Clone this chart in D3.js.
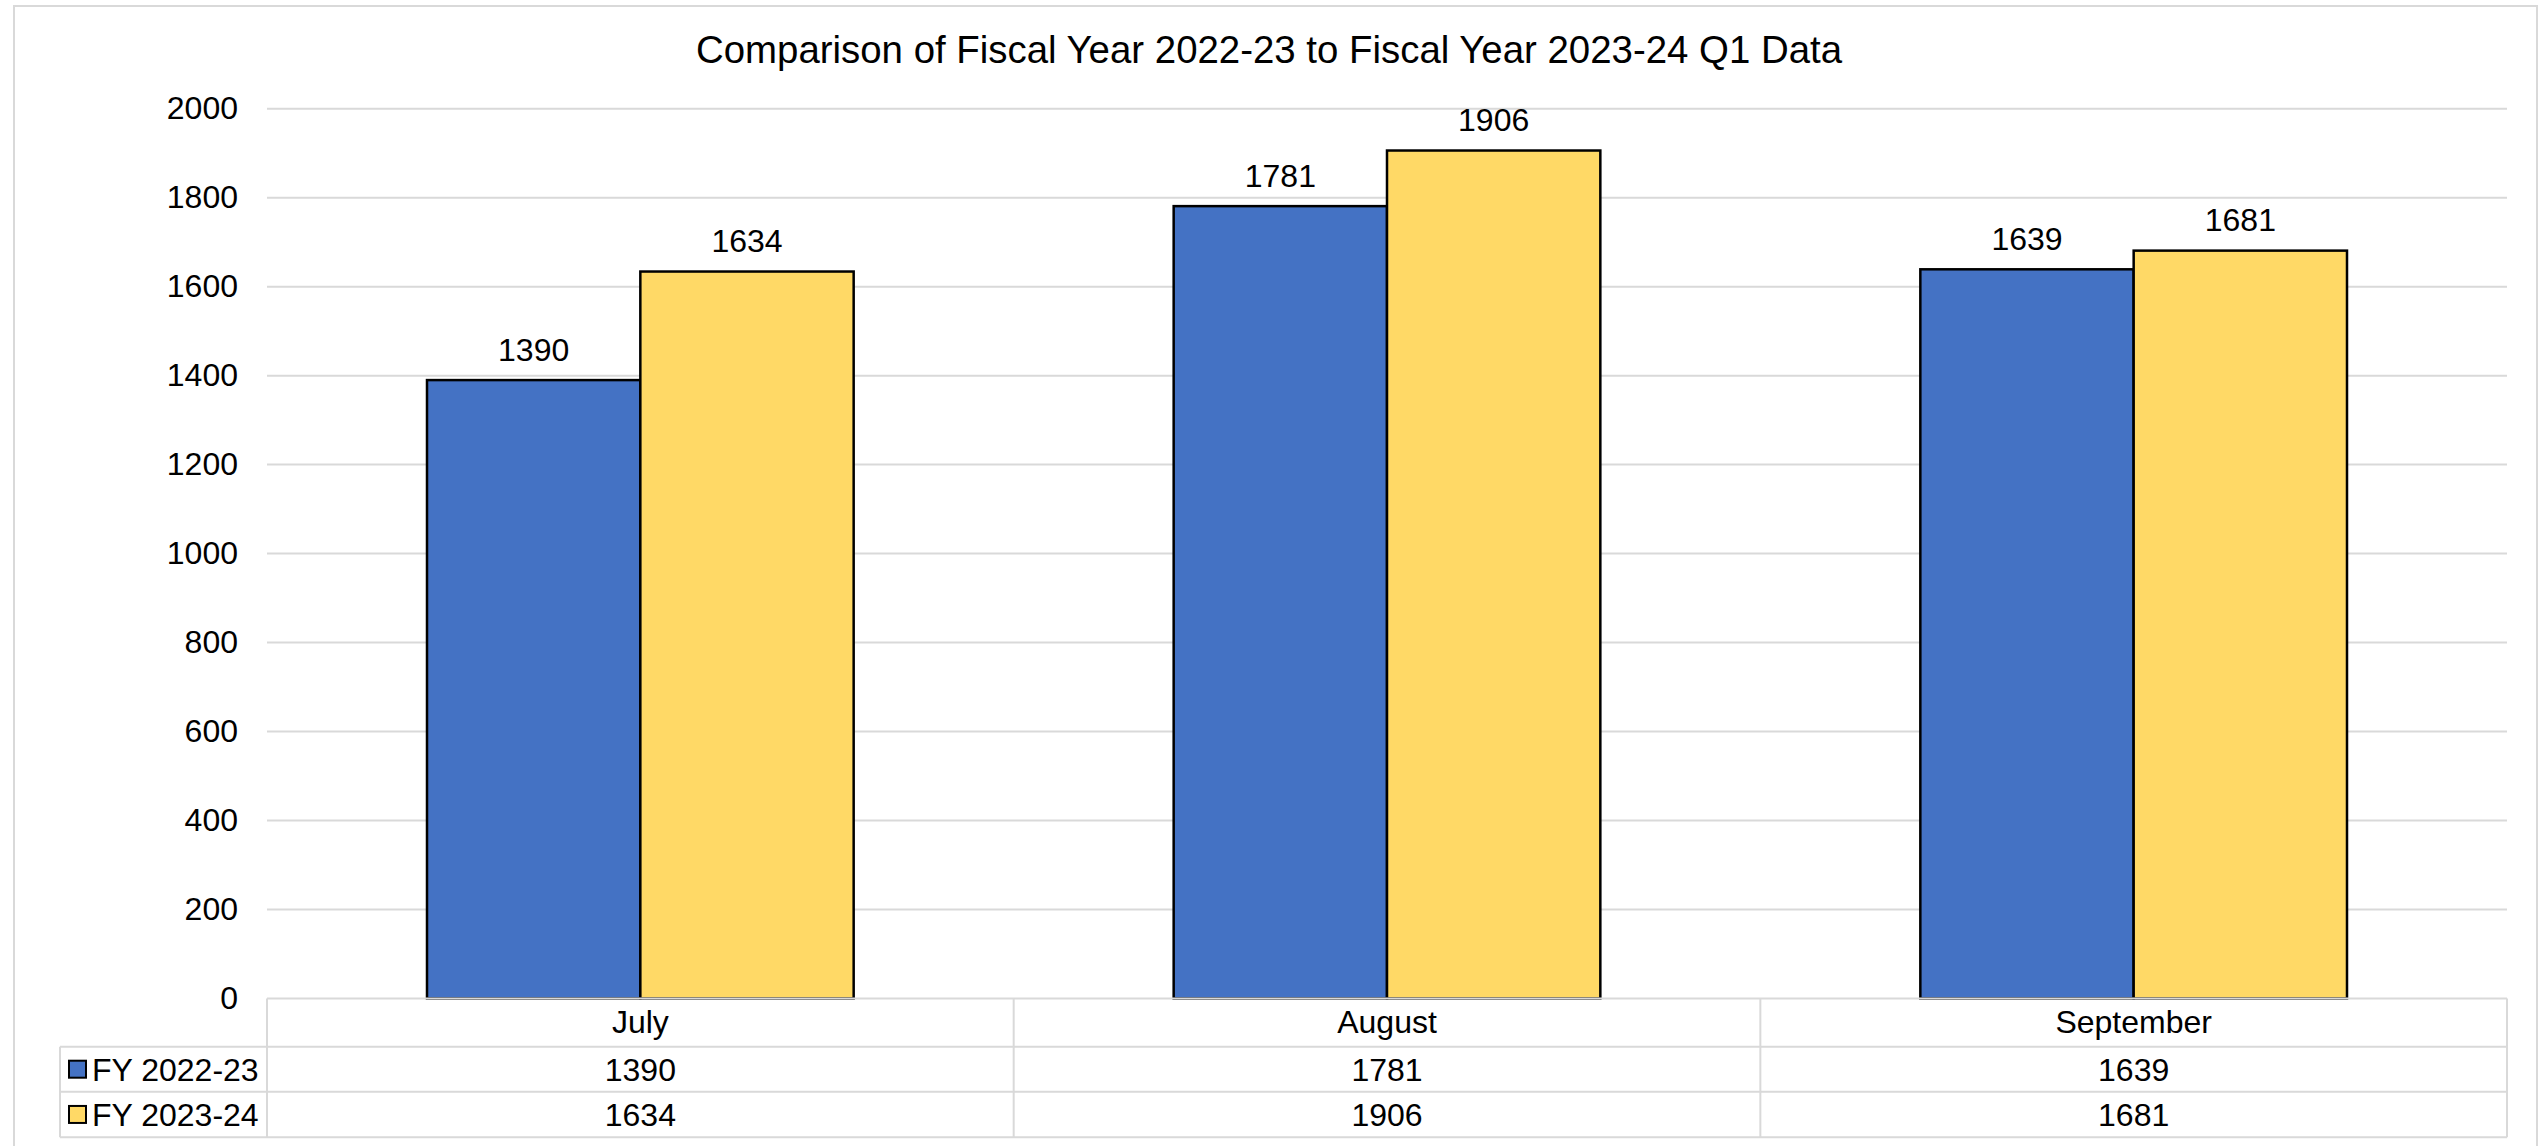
<!DOCTYPE html>
<html>
<head>
<meta charset="utf-8">
<script src="https://cdn.jsdelivr.net/npm/d3@7"></script>
<style>
  body { margin: 0; background: #fff; }
  svg { display: block; font-family: "Liberation Sans", Arial, sans-serif; }
</style>
</head>
<body>
<div id="chart"></div>
<script>
// ------ DATA ------
const months = ['July', 'August', 'September'];
const seriesNames = ['FY 2022-23', 'FY 2023-24'];
const fy2223 = [1390, 1781, 1639];
const fy2324 = [1634, 1906, 1681];
const yTicks = [0, 200, 400, 600, 800, 1000, 1200, 1400, 1600, 1800, 2000];
const seriesColors = ['#4472C4', '#FFD966'];

const seriesValues = [fy2223, fy2324];

// ------ LAYOUT ------
const W = 2543, H = 1146;
const plot = {left: 267, right: 2507, top: 108.7, bottom: 998.5};
const tableLeft = 60;
const rowLines = [998.5, 1046.7, 1091.7, 1137.2];
const gridColor = '#d9d9d9';

const svg = d3.select('#chart').append('svg')
  .attr('width', W)
  .attr('height', H);

svg.append('rect')
  .attr('width', W).attr('height', H)
  .attr('fill', '#fff');

// outer chart border (runs past the bottom edge)
svg.append('rect')
  .attr('x', 14).attr('y', 6)
  .attr('width', 2537 - 14).attr('height', H + 20)
  .attr('fill', 'none')
  .attr('stroke', gridColor)
  .attr('stroke-width', 2);

// title
svg.append('text')
  .attr('x', 1269)
  .attr('y', 63)
  .attr('text-anchor', 'middle')
  .attr('font-size', 38.4)
  .attr('fill', '#000')
  .text('Comparison of Fiscal Year 2022-23 to Fiscal Year 2023-24 Q1 Data');

// scales
const y = d3.scaleLinear()
  .domain([0, 2000])
  .range([plot.bottom, plot.top]);

const x0 = d3.scaleBand()
  .domain(months)
  .range([plot.left, plot.right]);

// gap width 150%: two bars take 2 / 3.5 of each category
const groupW = x0.bandwidth() * 2 / 3.5;
const x1 = d3.scaleBand()
  .domain(seriesNames)
  .range([0, groupW]);
const groupOffset = (x0.bandwidth() - groupW) / 2;

// gridlines
svg.append('g')
  .selectAll('line')
  .data(yTicks.filter(d => d > 0))
  .join('line')
    .attr('x1', plot.left).attr('x2', plot.right)
    .attr('y1', d => y(d)).attr('y2', d => y(d))
    .attr('stroke', gridColor)
    .attr('stroke-width', 2);

// y axis labels
const yAxis = svg.append('g')
  .attr('transform', `translate(${plot.left},0)`)
  .call(d3.axisLeft(y).tickValues(yTicks).tickSize(0).tickPadding(29).tickFormat(d3.format('d')));
yAxis.select('.domain').remove();
yAxis.selectAll('text')
  .attr('font-size', 32)
  .attr('font-family', '"Liberation Sans", Arial, sans-serif')
  .attr('fill', '#000');

// bars
const flat = [];
months.forEach((m, i) => {
  seriesNames.forEach((s, j) => {
    flat.push({month: m, series: s, value: seriesValues[j][i], color: seriesColors[j]});
  });
});

svg.append('g')
  .selectAll('rect')
  .data(flat)
  .join('rect')
    .attr('x', d => x0(d.month) + groupOffset + x1(d.series))
    .attr('y', d => y(d.value))
    .attr('width', x1.bandwidth())
    .attr('height', d => y(0) - y(d.value))
    .attr('fill', d => d.color)
    .attr('stroke', '#000')
    .attr('stroke-width', 2.5);

// data labels
svg.append('g')
  .selectAll('text')
  .data(flat)
  .join('text')
    .attr('x', d => x0(d.month) + groupOffset + x1(d.series) + x1.bandwidth() / 2)
    .attr('y', d => y(d.value) - 19.5)
    .attr('text-anchor', 'middle')
    .attr('font-size', 32)
    .attr('fill', '#000')
    .text(d => d.value);

// ------ DATA TABLE ------
const table = svg.append('g');

// horizontal lines
rowLines.forEach((ly, i) => {
  table.append('line')
    .attr('x1', i === 0 ? plot.left : tableLeft).attr('x2', plot.right)
    .attr('y1', ly).attr('y2', ly)
    .attr('stroke', gridColor)
    .attr('stroke-width', 2);
});

// vertical lines
const colEdges = [plot.left].concat(months.map(m => x0(m) + x0.bandwidth()));
colEdges.forEach(lx => {
  table.append('line')
    .attr('x1', lx).attr('x2', lx)
    .attr('y1', rowLines[0]).attr('y2', rowLines[3])
    .attr('stroke', gridColor)
    .attr('stroke-width', 2);
});
table.append('line')
  .attr('x1', tableLeft).attr('x2', tableLeft)
  .attr('y1', rowLines[1]).attr('y2', rowLines[3])
  .attr('stroke', gridColor)
  .attr('stroke-width', 2);

const rowMid = i => (rowLines[i] + rowLines[i + 1]) / 2;

// header row: month names
table.selectAll('.cat')
  .data(months)
  .join('text')
    .attr('class', 'cat')
    .attr('x', d => x0(d) + x0.bandwidth() / 2)
    .attr('y', rowMid(0) + 10)
    .attr('text-anchor', 'middle')
    .attr('font-size', 32)
    .text(d => d);

// series rows
seriesNames.forEach((s, j) => {
  const cy = rowMid(j + 1);
  table.append('rect')
    .attr('x', 69).attr('y', cy - 8.5)
    .attr('width', 17).attr('height', 17)
    .attr('fill', seriesColors[j])
    .attr('stroke', '#000')
    .attr('stroke-width', 2);
  table.append('text')
    .attr('x', 92)
    .attr('y', cy + 11.5)
    .attr('font-size', 32)
    .text(s);
  table.selectAll('.v' + j)
    .data(seriesValues[j])
    .join('text')
      .attr('class', 'v' + j)
      .attr('x', (d, i) => x0(months[i]) + x0.bandwidth() / 2)
      .attr('y', cy + 11.5)
      .attr('text-anchor', 'middle')
      .attr('font-size', 32)
      .text(d => d);
});
</script>
</body>
</html>
